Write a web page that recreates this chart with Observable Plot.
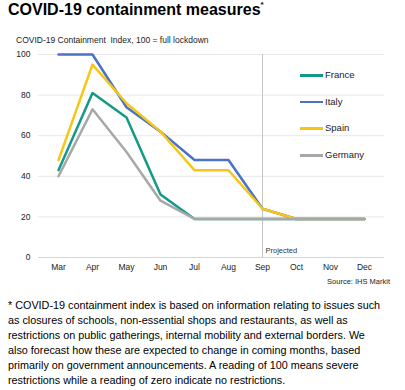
<!DOCTYPE html>
<html><head><meta charset="utf-8">
<script src="https://cdn.jsdelivr.net/npm/d3@7"></script>
<script src="https://cdn.jsdelivr.net/npm/@observablehq/plot@0.6"></script>
<style>
body{margin:0;background:#fff;font-family:"Liberation Sans",Arial,sans-serif;}
#wrap{position:relative;width:405px;height:390px;overflow:hidden;}
#title{position:absolute;left:8px;top:1px;font-weight:bold;font-size:16px;color:#000;}
#title sup{font-size:8px;vertical-align:top;position:relative;top:-1px;}
#sub{position:absolute;left:16px;top:35px;font-size:8.5px;color:#222;}
#src{position:absolute;right:15px;top:277px;font-size:7.5px;color:#222;}
#foot{position:absolute;left:8px;top:298px;font-size:10.8px;line-height:14.9px;color:#000;}
#chart{position:absolute;left:0;top:30px;}
#legend{position:absolute;left:300px;top:69px;}
.li{position:relative;height:26.7px;font-size:9.5px;color:#222;}
.li span.sw{position:absolute;left:0;top:5px;width:23px;height:2.5px;}
.li span.t{position:absolute;left:25px;top:0;}
</style></head>
<body><div id="wrap">
<div id="title">COVID-19 containment measures<sup>*</sup></div>
<div id="sub">COVID-19 Containment&nbsp; Index, 100 = full lockdown</div>
<div id="chart"></div>
<div id="legend"></div>
<div id="src">Source: IHS Markit</div>
<div id="foot">* COVID-19 containment index is based on information relating to issues such<br>as closures of schools, non-essential shops and restaurants, as well as<br>restrictions on public gatherings, internal mobility and external borders. We<br>also forecast how these are expected to change in coming months, based<br>primarily on government announcements. A reading of 100 means severe<br>restrictions while a reading of zero indicate no restrictions.</div>
</div>
<script>
const months = ["Mar","Apr","May","Jun","Jul","Aug","Sep","Oct","Nov","Dec"];
const countries = ["France","Italy","Spain","Germany"];
const colors = ["#129a86","#4a72c6","#f7c614","#a8a8a8"];
const france  = [43, 81, 69, 31, 19, 19, 19, 19, 19, 19];
const italy   = [100, 100, 74, 62, 48, 48, 24, 19, 19, 19];
const spain   = [48, 95, 76, 62, 43, 43, 24, 19, 19, 19];
const germany = [40, 73, 52, 28, 19, 19, 19, 19, 19, 19];
const yTicks = [0, 20, 40, 60, 80, 100];
const projectedMonth = "Sep";

const series = [france, italy, spain, germany];
const data = [];
countries.forEach((c, i) => series[i].forEach((v, j) => data.push({country: c, month: months[j], value: v})));

const plot = Plot.plot({
  width: 405, height: 262,
  marginLeft: 38, marginRight: 21, marginTop: 24, marginBottom: 35,
  style: {fontFamily: '"Liberation Sans", Arial, sans-serif', fontSize: "8.5px", color: "#222", background: "transparent"},
  x: {type: "point", domain: months, padding: 0.5, label: null},
  y: {domain: [0, 100], label: null},
  color: {domain: countries, range: colors},
  marks: [
    Plot.ruleY(yTicks.filter(d => d > 0), {stroke: "#e8e8e8", strokeWidth: 1}),
    Plot.ruleY([0], {stroke: "#d4d4d4", strokeWidth: 1}),
    Plot.ruleX([projectedMonth], {stroke: "#c4c4c4", strokeWidth: 1, y1: 0, y2: 100}),
    Plot.text([projectedMonth], {x: d => d, y: 0, text: () => "Projected", textAnchor: "start", dx: 3, dy: -7, fontSize: 7.5, fill: "#333"}),
    Plot.axisY({ticks: yTicks, tickSize: 0, tickPadding: 8, fontSize: 8.5}),
    Plot.axisX({tickSize: 0, tickPadding: 6, fontSize: 8.5}),
    Plot.line(data, {x: "month", y: "value", z: "country", stroke: "country", strokeWidth: 2.5})
  ]
});
document.getElementById("chart").appendChild(plot);

const leg = document.getElementById("legend");
countries.forEach((c, i) => {
  const d = document.createElement("div");
  d.className = "li";
  d.innerHTML = `<span class="sw" style="background:${colors[i]}"></span><span class="t">${c}</span>`;
  leg.appendChild(d);
});
</script>
</body></html>
